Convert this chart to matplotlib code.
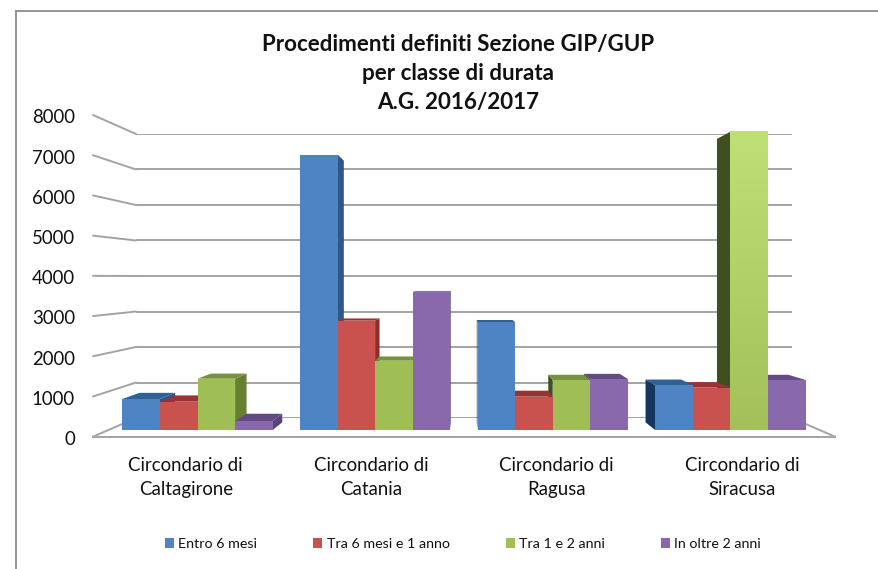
import numpy as np
import matplotlib
matplotlib.use("Agg")
import matplotlib.pyplot as plt
from matplotlib.patches import Polygon, ConnectionPatch
from matplotlib.lines import Line2D
from matplotlib.colors import LinearSegmentedColormap
from matplotlib.transforms import ScaledTranslation

categories = ["Circondario di\nCaltagirone", "Circondario di\nCatania",
              "Circondario di\nRagusa", "Circondario di\nSiracusa"]
series_names = ["Entro 6 mesi", "Tra 6 mesi e 1 anno", "Tra 1 e 2 anni", "In oltre 2 anni"]
entro_6_mesi = [805, 7155, 2797, 1169]
tra_6_mesi_1_anno = [735, 2839, 865, 1099]
tra_1_2_anni = [1332, 1800, 1299, 7748]
oltre_2_anni = [234, 3592, 1325, 1299]
y_ticks = [0, 1000, 2000, 3000, 4000, 5000, 6000, 7000, 8000]
title_lines = ["Procedimenti definiti Sezione GIP/GUP", "per classe di durata", "A.G. 2016/2017"]

front_colors = ["#4F84C4", "#C9524E", "#9FBE55", "#8A68AC"]
top_colors = ["#2F6096", "#993331", "#76923C", "#644A85"]
right_colors = ["#2F5686", "#8B2F2D", "#66802F", "#5A4477"]
left_colors = ["#17365D", "#632423", "#3F4F1F", "#3F3151"]

W, H = 879, 569
FONT = "Lato"
GRAY = "#A3A3A3"
plt.rcParams["font.family"] = [FONT, "DejaVu Sans"]
fig = plt.figure(figsize=(W / 100, H / 100), dpi=100, facecolor="white")


def px_axes(left, right, bottom, top, zorder):
    a = fig.add_axes([left / W, 1 - bottom / H, (right - left) / W, (bottom - top) / H], zorder=zorder)
    a.patch.set_alpha(0)
    for s in a.spines.values():
        s.set_visible(False)
    return a


# back wall
ax_back = px_axes(136, 792, 418, 134, 1)
ax_back.set_xlim(0, 4)
ax_back.set_ylim(0, 8000)
ax_back.set_yticks(y_ticks)
ax_back.set_xticks([])
ax_back.tick_params(left=False, labelleft=False)
ax_back.grid(axis="y", color=GRAY, lw=1.4)
ax_back.set_axisbelow(True)

# front plane: axis labels
ax_front = px_axes(93, 835, 436.7, 115, 2)
ax_front.set_xlim(0, 4)
ax_front.set_ylim(0, 8000)
ax_front.set_yticks(y_ticks)
ax_front.set_xticks(np.arange(4) + 0.5, categories)
ax_front.tick_params(axis="y", length=0, pad=13, labelsize=13.4, colors="#111111")
ax_front.tick_params(axis="x", length=0, pad=14.8, labelsize=13.4, colors="#111111")
for lab in ax_front.get_xticklabels():
    lab.set_linespacing(1.47)
shift = ScaledTranslation(0, -1 / 72, fig.dpi_scale_trans)
for lab in ax_front.get_yticklabels():
    lab.set_transform(lab.get_transform() + shift)
ax_front.spines["bottom"].set_visible(True)
ax_front.spines["bottom"].set_color(GRAY)
ax_front.spines["bottom"].set_linewidth(1.4)

for v in y_ticks:
    fig.add_artist(ConnectionPatch((0, v), (0, v), ax_front.transData, ax_back.transData,
                                   color=GRAY, lw=1.4))
fig.add_artist(ConnectionPatch((4, 0), (4, 0), ax_front.transData, ax_back.transData,
                               color=GRAY, lw=1.4))

# bars
ax = px_axes(93, 835, 430, 122, 3)
ax.axis("off")
xlim = ((93 - 197.5) / 177.6, (835 - 197.5) / 177.6)
BW = 37.6 / 177.6
DEPTH = 0.05
VP = (1.5, 4000)
series = [entro_6_mesi, tra_6_mesi_1_anno, tra_1_2_anni, oltre_2_anni]
x0 = np.arange(len(categories))


def back(px, py):
    return (px + DEPTH * (VP[0] - px), py + DEPTH * (VP[1] - py))


faces = []
for s, vals in enumerate(series):
    for g, v in enumerate(vals):
        xl = g + (s - 2) * BW
        faces.append((abs(xl + BW / 2 - VP[0]), s, xl, v))
for _, s, xl, v in sorted(faces, key=lambda f: -f[0]):
    xr = xl + BW
    if xr < VP[0]:
        pts = [(xr, 0), (xr, v), back(xr, v), back(xr, 0)]
        ax.add_patch(Polygon(pts, fc=right_colors[s], ec="none", zorder=2))
    elif xl > VP[0]:
        pts = [(xl, 0), (xl, v), back(xl, v), back(xl, 0)]
        ax.add_patch(Polygon(pts, fc=left_colors[s], ec="none", zorder=2))
    if v < VP[1]:
        pts = [(xl, v), (xr, v), back(xr, v), back(xl, v)]
        ax.add_patch(Polygon(pts, fc=top_colors[s], ec="none", zorder=2))

for s, vals in enumerate(series):
    ax.bar(x0 + (s - 1.5) * BW, vals, width=BW, color=front_colors[s], lw=0,
           label=series_names[s], zorder=3)

# lighter gradient on the tallest green bar
cm = LinearSegmentedColormap.from_list("g", ["#A3C05A", "#BFE074"])
xg = 3 + 0.0 * BW
ax.imshow(np.linspace(1, 0, 100).reshape(-1, 1), cmap=cm, aspect="auto", zorder=3.5,
          extent=(xg, xg + BW, 0, tra_1_2_anni[3]))
ax.set_xlim(*xlim)
ax.set_ylim(0, 8000)

handles, labels = ax.get_legend_handles_labels()
leg = fig.legend(handles, labels, ncols=4, loc="center", bbox_to_anchor=(463 / W, 1 - 544 / H),
                 frameon=False, fontsize=10.3, handlelength=0.65, handleheight=0.65, handletextpad=0.3,
                 columnspacing=3.9, labelcolor="#111111")

# title
for line, y in zip(title_lines, [44, 73, 103]):
    fig.text(458 / W, 1 - y / H, line, ha="center", va="center", fontsize=16.1, fontweight="bold",
             color="#111111")

# chart border
for xs, ys in [((16, 16), (569, 10.7)), ((16, 879), (10.7, 10.7))]:
    fig.add_artist(Line2D([x / W for x in xs], [1 - y / H for y in ys], color="#8C8C8C", lw=1.3))

fig.savefig("out.png", dpi=100)
